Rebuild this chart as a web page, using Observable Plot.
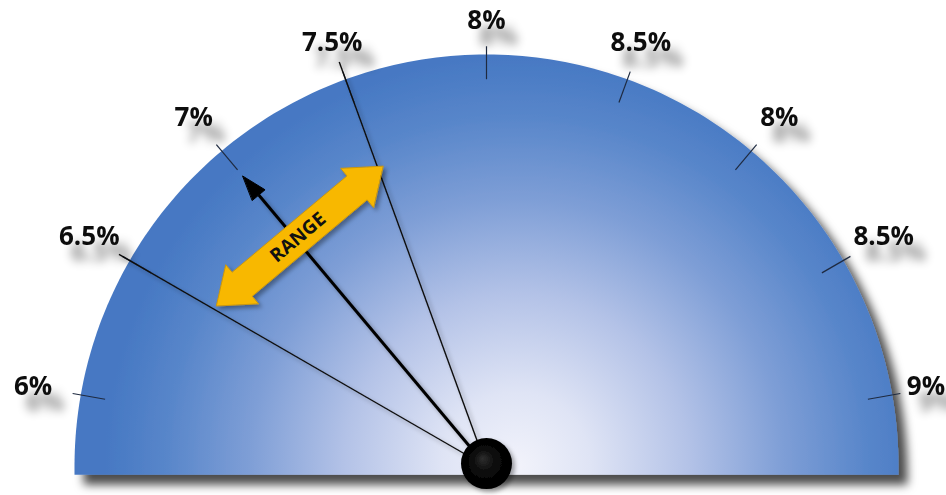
<!DOCTYPE html>
<html>
<head>
<meta charset="utf-8">
<script src="https://cdn.jsdelivr.net/npm/d3@7"></script>
<script src="https://cdn.jsdelivr.net/npm/@observablehq/plot@0.6"></script>
<style>
  html, body { margin: 0; padding: 0; background: #fff; }
  #chart svg { display: block; }
</style>
</head>
<body>
<div id="chart"></div>
<script>
// ---- data ----
const tickLabels = ["6%", "6.5%", "7%", "7.5%", "8%", "8.5%", "8%", "8.5%", "9%"];
const rangeLowLabel = "6.5%";
const rangeHighLabel = "7.5%";
const needleLabel = "7%";
const rangeText = "RANGE";

const R = 412, CX = 486, CY = 466, W = 946, HH = 495;

// ---- geometry helpers (unit radius gauge) ----
const angle = d3.scaleLinear().domain([0, tickLabels.length - 1]).range([170, 10]);
const rad = d => d * Math.PI / 180;
const polar = (r, deg) => ({x: r * Math.cos(rad(deg)), y: r * Math.sin(rad(deg))});

const lowIdx = tickLabels.indexOf(rangeLowLabel);
const highIdx = tickLabels.indexOf(rangeHighLabel);
const needleIdx = tickLabels.indexOf(needleLabel);

// gauge body
const gauge = [{x: 1, y: -0.02}, ...d3.range(0, 180.5, 1).map(a => polar(1, a)), {x: -1, y: -0.02}];

// tick marks
const ticks = tickLabels.map((t, i) => {
  const a = polar(0.94, angle(i)), b = polar(1.02, angle(i));
  return {x1: a.x, y1: a.y, x2: b.x, y2: b.y};
});
const xMax = (W - CX) / R - 0.05;
const labels = tickLabels.map((t, i) => {
  const a = angle(i);
  const p = polar(1.083 + 0.035 * Math.abs(Math.cos(rad(a))), a);
  return {x: Math.min(p.x, xMax), y: p.y, label: t};
});

// range boundary lines
const rangeLines = [lowIdx, highIdx].map((i, k) => {
  const b = polar(k === 0 ? 1.03 : 1.045, angle(i));
  return {x1: 0, y1: 0, x2: b.x, y2: b.y};
});

// needle
const na = angle(needleIdx);
const needleTip = polar(0.92, na);
const needleBase = polar(0.86, na);
const nd = {x: Math.cos(rad(na)), y: Math.sin(rad(na))};
const np = {x: Math.cos(rad(na - 90)), y: Math.sin(rad(na - 90))};
const headW = 0.02;
const needleHead = [
  needleTip,
  {x: needleBase.x + np.x * headW, y: needleBase.y + np.y * headW},
  {x: needleBase.x - np.x * headW, y: needleBase.y - np.y * headW}
];

// range double arrow (perpendicular to needle)
const c0 = {x: nd.x * 0.72 + np.x * 0.012, y: nd.y * 0.72 + np.y * 0.012};
const L = 0.264, h = 0.082, H = 0.062, s = 0.038;
const loc = [[L,0],[L-h,H],[L-h,s],[-L+h,s],[-L+h,H],[-L,0],[-L+h,-H],[-L+h,-s],[L-h,-s],[L-h,-H]];
const rangeArrow = loc.map(([u, w]) => ({x: c0.x + np.x * u + nd.x * w, y: c0.y + np.y * u + nd.y * w}));
const rangeLabel = [{x: c0.x - np.x * 0.005, y: c0.y - np.y * 0.005, label: rangeText}];
const rot = -(na - 90); // text along perpendicular

const chart = Plot.plot({
  width: W,
  height: HH,
  margin: 0,
  x: {domain: [-CX / R, (W - CX) / R], axis: null},
  y: {domain: [(CY - HH) / R, CY / R], axis: null},
  style: {background: "#fff", overflow: "visible"},
  marks: [
    Plot.line(gauge, {x: "x", y: "y", fill: "url(#gaugeGrad)", stroke: "none", curve: "linear-closed", ariaDescription: "gauge"}),
    Plot.link(ticks, {x1: "x1", y1: "y1", x2: "x2", y2: "y2", stroke: "#1e2a40", strokeWidth: 1.2}),
    Plot.link(rangeLines, {x1: "x1", y1: "y1", x2: "x2", y2: "y2", stroke: "#111", strokeWidth: 1.4, ariaDescription: "lines"}),
    Plot.link([{x1: 0, y1: 0, x2: needleBase.x, y2: needleBase.y}], {x1: "x1", y1: "y1", x2: "x2", y2: "y2", stroke: "#000", strokeWidth: 3, ariaDescription: "needle"}),
    Plot.line(needleHead, {x: "x", y: "y", fill: "#000", stroke: "#000", strokeWidth: 1, curve: "linear-closed"}),
    Plot.line(rangeArrow, {x: "x", y: "y", fill: "#f8b800", stroke: "#c9960f", strokeWidth: 1, curve: "linear-closed", ariaDescription: "rangearrow"}),
    Plot.text(rangeLabel, {x: "x", y: "y", text: "label", rotate: rot, fontSize: 19, fontWeight: "bold", fill: "#111", fontFamily: "Open Sans, sans-serif", letterSpacing: 0.5}),
    Plot.dot([{x: 0, y: 0.007}], {x: "x", y: "y", r: 25.5, fill: "url(#hubGrad)", stroke: "none", ariaDescription: "hub"}),
    Plot.text(labels, {x: "x", y: "y", text: "label", fontSize: 26, fontWeight: "bold", fill: "#111", fontFamily: "Open Sans, sans-serif", ariaDescription: "ticklabels"})
  ]
});

// defs: gradients and shadows
const sx = chart.scale("x"), sy = chart.scale("y");
const gx = sx.apply(0), gy = sy.apply(0), gr = sx.apply(1) - sx.apply(0);
const svg = d3.select(chart);
const defs = svg.insert("defs", ":first-child");
const lg = defs.append("radialGradient").attr("id", "gaugeGrad").attr("gradientUnits", "userSpaceOnUse")
  .attr("cx", gx + 30).attr("cy", gy).attr("r", gr);
[[0, "#f2f3fb"], [0.18, "#dfe4f5"], [0.42, "#b3c2e7"], [0.65, "#7e9ed6"], [0.85, "#5886ca"], [1, "#4678c3"]]
  .forEach(([o, c]) => lg.append("stop").attr("offset", o).attr("stop-color", c));
const hg = defs.append("radialGradient").attr("id", "hubGrad").attr("cx", 0.5).attr("cy", 0.5).attr("r", 0.5).attr("fx", 0.42).attr("fy", 0.4);
[[0, "#2e2e2e"], [0.45, "#0a0a0a"], [1, "#000"]].forEach(([o, c]) => hg.append("stop").attr("offset", o).attr("stop-color", c));
const f1 = defs.append("filter").attr("id", "gShadow").attr("x", "-10%").attr("y", "-10%").attr("width", "130%").attr("height", "130%");
f1.append("feDropShadow").attr("dx", 9).attr("dy", 10).attr("stdDeviation", 5).attr("flood-color", "#000").attr("flood-opacity", 0.7);
const f2 = defs.append("filter").attr("id", "tShadow").attr("x", "-50%").attr("y", "-50%").attr("width", "250%").attr("height", "250%");
f2.append("feDropShadow").attr("dx", 12).attr("dy", 16).attr("stdDeviation", 5).attr("flood-color", "#000").attr("flood-opacity", 0.45);
const f3 = defs.append("filter").attr("id", "sShadow").attr("x", "-20%").attr("y", "-20%").attr("width", "150%").attr("height", "150%");
f3.append("feDropShadow").attr("dx", 3).attr("dy", 3).attr("stdDeviation", 2).attr("flood-color", "#000").attr("flood-opacity", 0.35);

svg.selectAll('[aria-description="gauge"]').attr("filter", "url(#gShadow)");
svg.selectAll('[aria-description="ticklabels"]').attr("filter", "url(#tShadow)");
svg.selectAll('[aria-description="lines"], [aria-description="needle"], [aria-description="rangearrow"], [aria-description="hub"]').attr("filter", "url(#sShadow)");

document.getElementById("chart").append(chart);
</script>
</body>
</html>
